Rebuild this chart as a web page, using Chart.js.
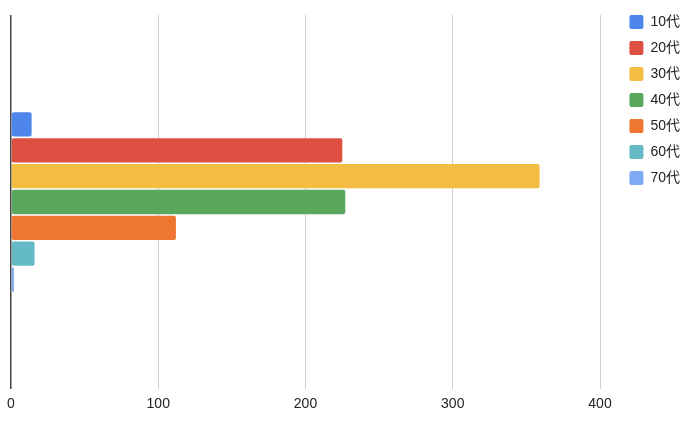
<!DOCTYPE html>
<html>
<head>
<meta charset="utf-8">
<script src="https://cdn.jsdelivr.net/npm/chart.js@4/dist/chart.umd.min.js"></script>
<style>
  html, body { margin: 0; padding: 0; background: #fff; }
  #wrap { width: 700px; height: 431px; position: relative; }
</style>
</head>
<body>
<div id="wrap"><canvas id="c"></canvas></div>
<script>
// ---- data ----
const categories = [''];
const seriesNames = ['10代', '20代', '30代', '40代', '50代', '60代', '70代'];
const seriesValues = [14, 225, 359, 227, 112, 16, 2];
const seriesColors = ['#4e86ec', '#dc4f41', '#f3bc42', '#59a85d', '#ef7631', '#65bbc5', '#7ea9f3'];
const tickValues = [0, 100, 200, 300, 400];

const FONT = "'Liberation Sans', Arial, 'Noto Sans CJK JP', sans-serif";

const datasets = seriesNames.map((name, i) => ({
  label: name,
  data: [seriesValues[i]],
  backgroundColor: seriesColors[i],
  borderWidth: 0,
  borderRadius: 2,
  borderSkipped: false,
  categoryPercentage: 0.484,
  barPercentage: 0.94
}));

new Chart(document.getElementById('c'), {
  type: 'bar',
  data: { labels: categories, datasets },
  options: {
    indexAxis: 'y',
    responsive: true,
    maintainAspectRatio: false,
    animation: false,
    layout: { padding: { top: 3, right: 10, bottom: 0, left: 0 } },
    plugins: {
      legend: {
        position: 'right',
        align: 'start',
        labels: {
          boxWidth: 14,
          boxHeight: 14,
          padding: 12,
          color: '#222',
          useBorderRadius: true,
          borderRadius: 2,
          font: { family: FONT, size: 14 }
        }
      },
      tooltip: { enabled: false }
    },
    scales: {
      x: {
        type: 'linear',
        position: 'bottom',
        min: 0,
        max: 400,
        afterBuildTicks: (s) => { s.ticks = tickValues.map(v => ({ value: v })); },
        ticks: {
          padding: 7,
          color: '#222',
          font: { family: FONT, size: 14 },
          maxRotation: 0
        },
        grid: {
          drawTicks: false,
          color: (ctx) => (ctx.tick && ctx.tick.value === 0) ? '#444' : '#d0d0d0',
          lineWidth: (ctx) => (ctx.tick && ctx.tick.value === 0) ? 1.5 : 1
        },
        border: { display: false },
        afterFit: (s) => { s.height = 42; }
      },
      x2: {
        type: 'linear',
        position: 'top',
        display: true,
        grid: { display: false, drawTicks: false },
        ticks: { display: false },
        border: { display: false },
        afterFit: (s) => { s.height = 12; }
      },
      y: {
        type: 'category',
        position: 'left',
        display: true,
        grid: { display: false, drawTicks: false },
        ticks: { display: false },
        border: { display: false },
        afterFit: (s) => { s.width = 11; }
      },
      y2: {
        type: 'linear',
        position: 'right',
        display: true,
        grid: { display: false, drawTicks: false },
        ticks: { display: false },
        border: { display: false },
        afterFit: (s) => {
          const lg = s.chart.legend;
          const lw = lg ? lg.width : 73;
          s.width = Math.max(0, 700 - 10 - lw - 600);
        }
      }
    }
  }
});
</script>
</body>
</html>
